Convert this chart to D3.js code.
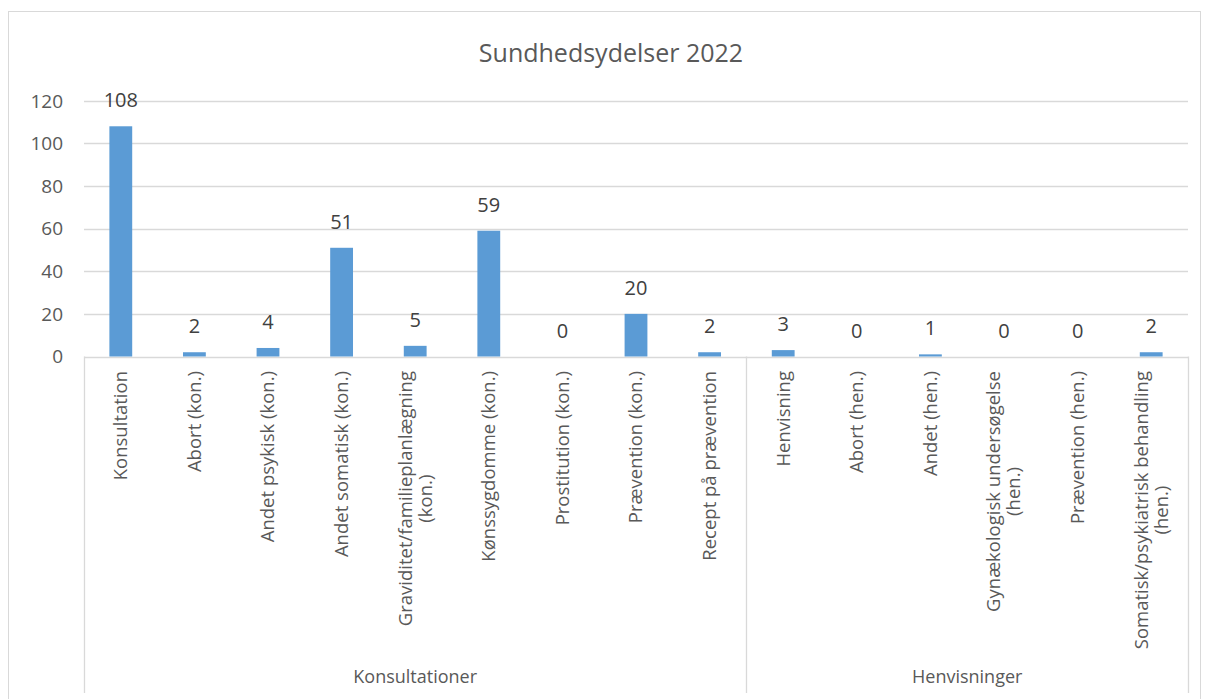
<!DOCTYPE html>
<html>
<head>
<meta charset="utf-8">
<script src="https://cdn.jsdelivr.net/npm/d3@7"></script>
<style>
  body { margin: 0; background: #fff; }
  svg { display: block; font-family: "Open Sans", "Noto Sans", sans-serif; }
</style>
</head>
<body>
<div id="chart"></div>
<script>
// chart data
const chartTitle = "Sundhedsydelser 2022";
const categories = [
    "Konsultation", "Abort (kon.)", "Andet psykisk (kon.)", "Andet somatisk (kon.)",
    "Graviditet/familieplanlægning\n(kon.)", "Kønssygdomme (kon.)", "Prostitution (kon.)",
    "Prævention (kon.)", "Recept på prævention",
    "Henvisning", "Abort (hen.)", "Andet (hen.)", "Gynækologisk undersøgelse\n(hen.)",
    "Prævention (hen.)", "Somatisk/psykiatrisk behandling\n(hen.)"
];
const values = [108, 2, 4, 51, 5, 59, 0, 20, 2, 3, 0, 1, 0, 0, 2];
const groupNames = ["Konsultationer", "Henvisninger"];
const groupSizes = [9, 6];
const yTicks = [0, 20, 40, 60, 80, 100, 120];

const width = 1209, height = 699;
const plot = { left: 84, right: 1188, top: 100.7, bottom: 356.5 };

const svg = d3.select("#chart").append("svg")
    .attr("width", width)
    .attr("height", height);

// outer chart border
svg.append("rect")
    .attr("x", 8.5).attr("y", 11.5)
    .attr("width", 1192).attr("height", 720)
    .attr("fill", "none")
    .attr("stroke", "#d9d9d9");

svg.append("text")
    .attr("x", 611).attr("y", 62)
    .attr("text-anchor", "middle")
    .attr("font-size", 25)
    .attr("fill", "#595959")
    .text(chartTitle);

const x = d3.scaleBand()
    .domain(d3.range(categories.length))
    .range([plot.left, plot.right])
    .paddingInner(0.69)
    .paddingOuter(0.345);

const y = d3.scaleLinear()
    .domain([0, 120])
    .range([plot.bottom, plot.top]);

// gridlines
svg.append("g")
    .selectAll("line")
    .data(yTicks)
    .enter().append("line")
    .attr("x1", plot.left).attr("x2", plot.right)
    .attr("y1", d => Math.round(y(d)) + 0.5)
    .attr("y2", d => Math.round(y(d)) + 0.5)
    .attr("stroke", "#d9d9d9")
    .attr("stroke-width", 1.3);

// y tick labels
svg.append("g")
    .selectAll("text")
    .data(yTicks)
    .enter().append("text")
    .attr("x", 63)
    .attr("y", d => y(d))
    .attr("dy", "0.36em")
    .attr("text-anchor", "end")
    .attr("font-size", 19)
    .attr("fill", "#595959")
    .text(d => d);

// bars
svg.append("g")
    .selectAll("rect")
    .data(values)
    .enter().append("rect")
    .attr("x", (d, i) => x(i))
    .attr("width", x.bandwidth())
    .attr("y", d => y(d))
    .attr("height", d => y(0) - y(d))
    .attr("fill", "#5b9bd5");

// data labels
svg.append("g")
    .selectAll("text")
    .data(values)
    .enter().append("text")
    .attr("x", (d, i) => x(i) + x.bandwidth() / 2)
    .attr("y", d => y(d) - 19)
    .attr("text-anchor", "middle")
    .attr("font-size", 20)
    .attr("fill", "#404040")
    .text(d => d);

// category axis: group separators
const step = x.step();
let bounds = [0];
groupSizes.forEach(n => bounds.push(bounds[bounds.length - 1] + n));
svg.append("g")
    .selectAll("line")
    .data(bounds)
    .enter().append("line")
    .attr("x1", d => Math.round(plot.left + d * step) + 0.5)
    .attr("x2", d => Math.round(plot.left + d * step) + 0.5)
    .attr("y1", plot.bottom)
    .attr("y2", 693)
    .attr("stroke", "#d9d9d9")
    .attr("stroke-width", 1.3);

// category labels (rotated, multi-line centred)
const labelTop = 371;
const lineH = 20;
const catG = svg.append("g");
categories.forEach((name, i) => {
    const lines = name.split("\n");
    const cx = x(i) + x.bandwidth() / 2;
    const t = catG.append("text")
        .attr("transform", `translate(${cx},${labelTop}) rotate(-90)`)
        .attr("font-size", 18.5)
        .attr("fill", "#595959")
        .attr("text-anchor", "middle");
    const spans = lines.map((ln, k) => t.append("tspan")
        .attr("y", (k - (lines.length - 1) / 2) * lineH)
        .attr("dy", "0.35em")
        .text(ln));
    const maxLen = d3.max(spans, s => s.node().getComputedTextLength());
    spans.forEach(s => s.attr("x", -maxLen / 2));
});

// group labels
svg.append("g")
    .selectAll("text")
    .data(groupNames)
    .enter().append("text")
    .attr("x", (d, i) => plot.left + (bounds[i] + bounds[i + 1]) / 2 * step)
    .attr("y", 683)
    .attr("text-anchor", "middle")
    .attr("font-size", 18)
    .attr("fill", "#595959")
    .text(d => d);
</script>
</body>
</html>
